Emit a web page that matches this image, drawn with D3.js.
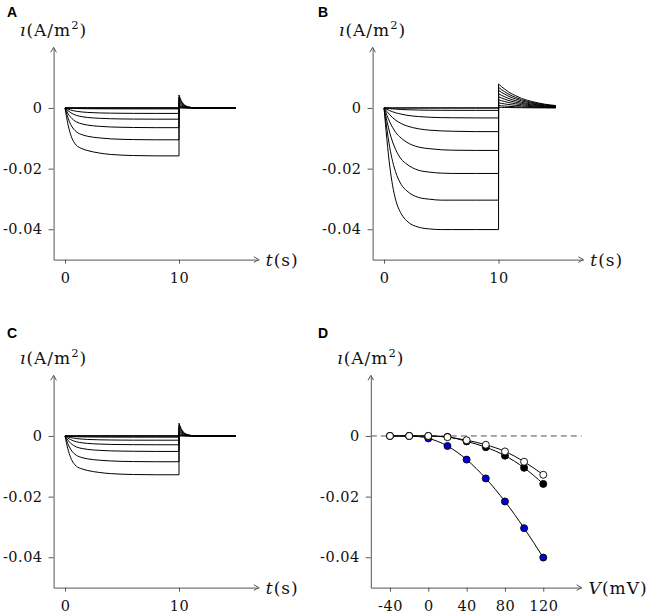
<!DOCTYPE html>
<html>
<head>
<meta charset="utf-8">
<script src="https://cdn.jsdelivr.net/npm/d3@7"></script>
<style>
  html, body { margin: 0; padding: 0; background: #fff; }
  svg { display: block; }
  .tick text { font-family: "DejaVu Serif", serif; font-size: 14.5px; letter-spacing: 0.5px; fill: #111; }
  .lab { font-family: "DejaVu Serif", serif; font-size: 17px; letter-spacing: 1px; fill: #111; }
  .panel { font-family: "Liberation Sans", Arial, sans-serif; font-weight: bold; font-size: 14px; fill: #000; }
</style>
</head>
<body>
<svg id="chart" width="649" height="615"></svg>
<script>
// ---------------- data ----------------
const voltages = [-40, -20, 0, 20, 40, 60, 80, 100, 120];          // mV
// steady-state currents at end of step (A/m^2) — also panel D
const ivA = [0, 0, 0, -0.0003, -0.0018, -0.0037, -0.0065, -0.0105, -0.0158];      // black
const ivB = [0, 0, -0.0008, -0.0033, -0.0078, -0.0140, -0.0216, -0.0304, -0.0401]; // blue
const ivC = [0, 0, 0, -0.0004, -0.0014, -0.0029, -0.0051, -0.0085, -0.0128];      // white

// time samples during the step (s)
const tOn = [0, 0.25, 0.5, 0.75, 1, 1.5, 2, 3, 4, 5, 6, 8, 10];
// fraction of steady-state reached, per voltage
const fracA = [
  [0, 0.21, 0.38, 0.51, 0.61, 0.74, 0.82, 0.91, 0.95, 0.975, 0.99, 1, 1],
  [0, 0.21, 0.38, 0.51, 0.61, 0.74, 0.82, 0.91, 0.95, 0.975, 0.99, 1, 1],
  [0, 0.21, 0.38, 0.51, 0.61, 0.74, 0.82, 0.91, 0.95, 0.975, 0.99, 1, 1],
  [0, 0.21, 0.38, 0.51, 0.61, 0.74, 0.82, 0.91, 0.95, 0.975, 0.99, 1, 1],
  [0, 0.21, 0.38, 0.51, 0.61, 0.74, 0.82, 0.91, 0.95, 0.975, 0.99, 1, 1],
  [0, 0.24, 0.42, 0.56, 0.66, 0.78, 0.85, 0.92, 0.96, 0.98, 0.99, 1, 1],
  [0, 0.27, 0.47, 0.61, 0.71, 0.81, 0.87, 0.93, 0.965, 0.98, 0.99, 1, 1],
  [0, 0.30, 0.52, 0.66, 0.75, 0.84, 0.89, 0.94, 0.97, 0.985, 0.993, 1, 1],
  [0, 0.33, 0.56, 0.70, 0.78, 0.85, 0.89, 0.94, 0.97, 0.985, 0.993, 1, 1]
];
const fracB = [
  [0, 0.14, 0.27, 0.38, 0.48, 0.62, 0.73, 0.86, 0.93, 0.965, 0.98, 0.995, 1],
  [0, 0.14, 0.27, 0.38, 0.48, 0.62, 0.73, 0.86, 0.93, 0.965, 0.98, 0.995, 1],
  [0, 0.14, 0.27, 0.38, 0.48, 0.62, 0.73, 0.86, 0.93, 0.965, 0.98, 0.995, 1],
  [0, 0.14, 0.27, 0.38, 0.48, 0.62, 0.73, 0.86, 0.93, 0.965, 0.98, 0.995, 1],
  [0, 0.15, 0.29, 0.41, 0.51, 0.66, 0.76, 0.88, 0.94, 0.97, 0.985, 1, 1],
  [0, 0.17, 0.33, 0.46, 0.57, 0.71, 0.81, 0.92, 0.96, 0.985, 0.995, 1, 1],
  [0, 0.20, 0.38, 0.52, 0.63, 0.78, 0.86, 0.95, 0.98, 0.995, 1, 1, 1],
  [0, 0.23, 0.43, 0.58, 0.69, 0.83, 0.90, 0.97, 0.99, 1, 1, 1, 1],
  [0, 0.26, 0.48, 0.64, 0.75, 0.87, 0.93, 0.98, 0.995, 1, 1, 1, 1]
];
const fracC = fracA;

// tail after the step (s)
const tOff = [10, 10.25, 10.5, 10.75, 11, 11.5, 12, 13, 14, 15];
const tailFracA = [1, 0.47, 0.22, 0.10, 0.05, 0.011, 0.002, 0, 0, 0];
const tailFracB = [1, 0.89, 0.80, 0.71, 0.63, 0.51, 0.40, 0.26, 0.16, 0.10];
const tailFracC = tailFracA;
const tailPeakA = [0, 0.0002, 0.0006, 0.0011, 0.0017, 0.0023, 0.0030, 0.0036, 0.0043];
const tailPeakB = [0.0002, 0.0008, 0.0017, 0.0027, 0.0037, 0.0047, 0.0058, 0.0068, 0.0079];
const tailPeakC = [0, 0.0002, 0.0005, 0.0010, 0.0016, 0.0022, 0.0029, 0.0035, 0.0042];

const iTicks = [0, -0.02, -0.04];
const tTicks = [0, 10];
const vTicks = [-40, 0, 40, 80, 120];

// ---------------- drawing ----------------
const svg = d3.select("#chart");
const axisColor = "#555";

function arrowRight(g, x, y) {
  g.append("path").attr("d", `M${x-5},${y-2.8}L${x},${y}L${x-5},${y+2.8}`)
    .attr("fill", "none").attr("stroke", axisColor).attr("stroke-width", 1);
}
function arrowUp(g, x, y) {
  g.append("path").attr("d", `M${x-2.8},${y+5}L${x},${y}L${x+2.8},${y+5}`)
    .attr("fill", "none").attr("stroke", axisColor).attr("stroke-width", 1);
}

function drawAxes(x, y, xTicks, xName, xUnit, letter, letterPos) {
  const g = svg.append("g");
  const [x0, x1] = x.range();
  const [yb, yt] = y.range();
  const xa = g.append("g").attr("transform", `translate(0,${yb})`)
    .call(d3.axisBottom(x).tickValues(xTicks).tickSize(4).tickSizeOuter(0).tickPadding(9)
      .tickFormat(d3.format("d")));
  const ya = g.append("g").attr("transform", `translate(${x0},0)`)
    .call(d3.axisLeft(y).tickValues(iTicks).tickSize(5).tickSizeOuter(0).tickPadding(6)
      .tickFormat(d => d === 0 ? "0" : d3.format(".2f")(d)));
  [xa, ya].forEach(a => {
    a.select(".domain").attr("stroke", axisColor);
    a.selectAll(".tick line").attr("stroke", axisColor);
    a.selectAll(".tick text").attr("fill", "#111");
  });
  ya.selectAll(".tick text").text(d => d === 0 ? "0" : d3.format(".2f")(d).replace("−", "-"));
  xa.selectAll(".tick text").text(d => String(d).replace("−", "-"));
  arrowRight(g, x1, yb);
  arrowUp(g, x0, yt);
  // y label
  const yl = g.append("text").attr("class", "lab").attr("x", x0).attr("y", yt - 11.5)
    .attr("text-anchor", "middle");
  yl.append("tspan").attr("font-style", "italic").text("ı");
  yl.append("tspan").text("(A/m");
  yl.append("tspan").attr("font-size", "11.5px").attr("dy", -7).text("2");
  yl.append("tspan").attr("dy", 7).text(")");
  // x label
  const xl = g.append("text").attr("class", "lab").attr("x", x1 + 7).attr("y", yb + 6);
  xl.append("tspan").attr("font-style", "italic").text(xName);
  xl.append("tspan").text(xUnit);
  g.append("text").attr("class", "panel").attr("x", letterPos[0]).attr("y", letterPos[1]).text(letter);
}

function drawTraces(x, y, iv, frac, tailPeak, tailFrac) {
  const g = svg.append("g").attr("fill", "none").attr("stroke", "#000").attr("stroke-width", 1);
  const line = d3.line().x(d => x(d[0])).y(d => y(d[1])).curve(d3.curveMonotoneX);
  voltages.forEach((v, k) => {
    const on = tOn.map((t, j) => [t, iv[k] * frac[k][j]]);
    const off = tOff.map((t, j) => [t, tailPeak[k] * tailFrac[j]]);
    g.append("path").attr("d", line(on));
    g.append("path").attr("d", d3.line().x(d => x(d[0])).y(d => y(d[1]))(
      [[tOn[tOn.length - 1], iv[k]], [tOff[0], tailPeak[k]]]));
    g.append("path").attr("d", line(off));
  });
}

// Panel geometry
const yTop = d3.scaleLinear().domain([-0.05, 0.02]).range([259.6, 47.3]);
const yBot = d3.scaleLinear().domain([-0.05, 0.02]).range([587.6, 375.3]);
const xA = d3.scaleLinear().domain([-1, 17]).range([53.6, 258.8]);
const xB = d3.scaleLinear().domain([-1, 17.4]).range([372.6, 583.3]);
const xC = xA;
const xD = d3.scaleLinear().domain([-60, 160]).range([370.8, 581.6]);

// Panel A
drawAxes(xA, yTop, tTicks, "t", "(s)", "A", [7, 17]);
drawTraces(xA, yTop, ivA, fracA, tailPeakA, tailFracA);
// Panel B
drawAxes(xB, yTop, tTicks, "t", "(s)", "B", [318, 17]);
drawTraces(xB, yTop, ivB, fracB, tailPeakB, tailFracB);
// Panel C
drawAxes(xC, yBot, tTicks, "t", "(s)", "C", [7, 338]);
drawTraces(xC, yBot, ivC, fracC, tailPeakC, tailFracC);
// Panel D
drawAxes(xD, yBot, vTicks, "V", "(mV)", "D", [318, 338]);
svg.append("line").attr("x1", xD(-60)).attr("x2", xD(160))
  .attr("y1", yBot(0)).attr("y2", yBot(0))
  .attr("stroke", axisColor).attr("stroke-dasharray", "6,4").attr("stroke-width", 1);
const series = [
  { iv: ivB, fill: "#0000dd" },
  { iv: ivA, fill: "#000" },
  { iv: ivC, fill: "#fff" }
];
series.forEach(s => {
  const pts = voltages.map((v, k) => [v, s.iv[k]]);
  svg.append("path").attr("d", d3.line().x(d => xD(d[0])).y(d => yBot(d[1])).curve(d3.curveMonotoneX)(pts))
    .attr("fill", "none").attr("stroke", "#000").attr("stroke-width", 1);
  svg.append("g").selectAll("circle").data(pts).join("circle")
    .attr("cx", d => xD(d[0])).attr("cy", d => yBot(d[1])).attr("r", 3.5)
    .attr("fill", s.fill).attr("stroke", "#000").attr("stroke-width", 0.9);
});
</script>
</body>
</html>
